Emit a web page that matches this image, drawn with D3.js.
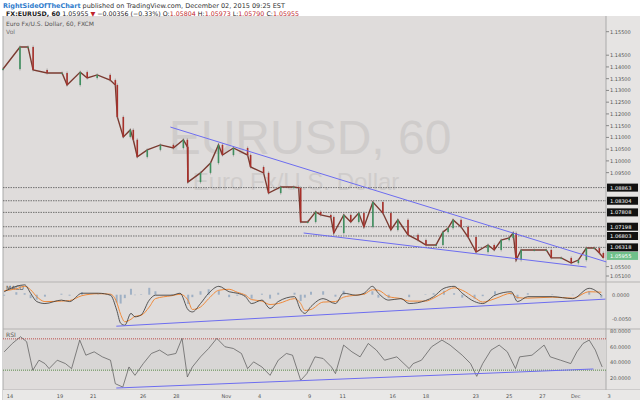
<!DOCTYPE html>
<html><head><meta charset="utf-8">
<script src="https://cdn.jsdelivr.net/npm/d3@7"></script>
<style>body{margin:0;background:#fff}svg{display:block;font-family:"DejaVu Sans",sans-serif}</style>
</head><body><svg id="c" width="640" height="402"></svg>
<script>
// ---- data ----
const tickDays = [0,3,5,8,10,13,15,18,20,23,25,28,30,32,34,36];
const tickLabels = ["14","19","21","26","28","Nov","4","9","11","16","18","23","25","27","Dec","3"];
const priceDays = [-0.42,0.6,1.08,1.39,2.23,3.13,3.43,4.22,4.64,5.24,6.02,6.33,6.45,6.81,7.23,7.41,7.65,8.25,9.04,9.82,10.42,10.66,10.69,11.45,12.05,12.53,12.77,13.43,14.28,14.46,15.24,15.54,16.27,17.05,17.35,17.47,17.89,18.37,18.67,19.28,19.46,20.06,20.48,20.96,21.27,21.81,22.41,22.89,23.31,23.92,24.52,25.0,25.6,26.02,26.33,26.63,27.11,27.53,28.01,28.73,29.1,29.52,30.0,30.24,30.42,30.72,31.51,32.23,32.53,33.13,33.73,34.16,34.64,35.12,35.42,35.66];
const closes = [1.1391,1.1485,1.1485,1.1387,1.1374,1.1374,1.1323,1.1378,1.1353,1.1366,1.1344,1.1323,1.1187,1.1102,1.1132,1.1090,1.1017,1.1047,1.1068,1.1055,1.1090,1.1060,1.0910,1.0949,1.0991,1.1068,1.1025,1.1055,1.1025,1.0974,1.0949,1.0863,1.0889,1.0889,1.0885,1.0740,1.0740,1.0783,1.0770,1.0761,1.0693,1.0770,1.0740,1.0778,1.0719,1.0825,1.0778,1.0706,1.0749,1.0685,1.0663,1.0642,1.0642,1.0697,1.0714,1.0749,1.0719,1.0676,1.0612,1.0642,1.0621,1.0663,1.0672,1.0693,1.0578,1.0621,1.0621,1.0621,1.0587,1.0587,1.0565,1.0578,1.0629,1.0629,1.0608,1.0587];
const priceTicks = [1.155,1.145,1.14,1.135,1.13,1.125,1.12,1.115,1.11,1.105,1.10,1.095,1.055,1.051];
const levels = [1.08863,1.08304,1.07808,1.07198,1.06803,1.06318];
const lastPrice = 1.05955;
const macdDays = [-0.35,0.38,0.88,1.24,1.61,2.1,3.09,3.58,4.32,5.3,6.04,6.41,6.65,6.9,7.27,7.51,7.88,8.37,8.74,9.73,10.22,10.71,10.96,11.45,11.94,12.55,13.17,13.66,14.15,14.52,15.14,15.63,16.12,17.1,17.47,17.72,18.09,18.82,19.56,20.05,20.79,21.28,21.78,22.14,22.76,23.5,23.99,24.97,25.46,26.08,26.69,27.18,27.92,28.41,29.15,30.13,30.5,31.12,32.59,33.82,34.81,35.54];
const macdVals = [0.0006,0.0017,0.0020,0.0003,-0.0014,-0.0018,-0.0011,-0.0014,0.0003,0.0003,-0.0001,-0.0031,-0.0058,-0.0062,-0.0038,-0.0045,-0.0041,-0.0011,-0.0001,-0.0001,0.0003,-0.0031,-0.0035,-0.0018,0.0003,0.0017,0.0006,0.0003,-0.0004,-0.0018,-0.0011,-0.0028,-0.0014,-0.0004,-0.0031,-0.0038,-0.0024,-0.0008,-0.0018,0.0003,-0.0001,0.0003,0.0017,0.0003,-0.0011,-0.0008,-0.0018,-0.0012,-0.0004,0.0013,0.0017,0.0003,-0.0014,-0.0018,-0.0001,0.0006,-0.0014,-0.0004,-0.0004,-0.0008,0.0013,-0.0001];
const signalVals = [0.0008,0.0012,0.0017,0.0010,-0.0004,-0.0014,-0.0013,-0.0012,-0.0002,0.0002,0.0001,-0.0015,-0.0040,-0.0055,-0.0050,-0.0044,-0.0042,-0.0025,-0.0008,-0.0002,0.0001,-0.0012,-0.0030,-0.0025,-0.0008,0.0009,0.0011,0.0005,-0.0001,-0.0010,-0.0013,-0.0020,-0.0018,-0.0008,-0.0018,-0.0032,-0.0030,-0.0015,-0.0014,-0.0005,-0.0001,0.0001,0.0010,0.0009,-0.0004,-0.0008,-0.0013,-0.0013,-0.0007,0.0005,0.0014,0.0009,-0.0006,-0.0015,-0.0008,0.0003,-0.0006,-0.0007,-0.0005,-0.0007,0.0006,0.0005];
const rsiDays = [-0.35,0.14,0.63,1.0,1.24,1.37,1.74,2.1,2.35,2.84,3.33,3.7,4.19,4.56,5.06,5.55,6.04,6.33,6.78,7.15,7.51,8.01,8.5,8.99,9.48,9.97,10.34,10.66,10.96,11.45,11.94,12.43,12.92,13.42,13.91,14.28,14.64,15.14,15.63,16.12,16.61,16.98,17.47,17.84,18.33,18.82,19.32,19.56,20.05,20.55,21.04,21.53,22.02,22.51,23.25,23.99,24.23,24.73,25.34,25.96,26.45,27.18,27.68,28.05,28.41,28.91,29.4,29.89,30.38,30.63,31.37,32.1,32.47,33.09,33.7,34.07,34.44,34.81,35.18,35.42,35.59];
const rsiVals = [53.4,64.1,72.7,66.3,42.7,29.9,42.7,38.4,32.0,42.7,38.4,32.0,68.4,49.1,53.4,47.0,42.7,12.7,8.4,34.1,23.4,38.4,51.3,55.6,49.1,51.3,70.6,21.3,34.1,47.0,57.7,70.6,59.9,57.7,51.3,32.0,40.6,34.1,23.4,42.7,51.3,49.1,17.0,25.6,47.0,44.9,34.1,25.6,62.0,53.4,47.0,64.1,55.6,42.7,47.0,32.0,38.4,42.7,59.9,68.4,62.0,49.1,38.4,22.1,38.4,55.6,62.0,53.4,32.0,47.0,49.1,62.0,47.0,42.7,38.4,53.4,64.1,68.4,55.6,42.7,34.1];
const priceTrendUpper = [[9.64,1.1144],[35.84,1.0570]];
const priceTrendLower = [[17.65,1.0693],[34.64,1.0548]];
const macdTrend = [[6.39,-0.0064],[35.78,-0.0009]];
const rsiTrend = [[6.39,7.2],[35.06,31.5]];

// ---- drawing ----
const svg = d3.select("#c");
const L=3, R=606;
const x = d3.scaleLinear().domain([0,36]).range([10,609]);
const y = d3.scaleLinear().domain([1.155,1.051]).range([31.7,276]);
const ym = d3.scaleLinear().domain([0,-0.005]).range([294.7,319.3]);
const yr = d3.scaleLinear().domain([80,20]).range([331,378]);

svg.append("rect").attr("x",L).attr("y",16).attr("width",R-L).attr("height",374).attr("fill","#dfdcdb");
svg.append("rect").attr("x",R).attr("y",16).attr("width",640-R).attr("height",374).attr("fill","#e6e4e3");
svg.append("line").attr("x1",R).attr("x2",R).attr("y1",16).attr("y2",400).attr("stroke","#aaa");
[282,329,390].forEach(v=>svg.append("line").attr("x1",L).attr("x2",640).attr("y1",v).attr("y2",v).attr("stroke","#b5b3b2"));
svg.append("line").attr("x1",L).attr("x2",L).attr("y1",16).attr("y2",400).attr("stroke","#aaa");

// header
const h1 = svg.append("text").attr("x",3).attr("y",8).attr("font-size",6.5);
h1.append("tspan").attr("fill","#2f7ccc").attr("font-weight","bold").text("RightSideOfTheChart");
h1.append("tspan").attr("fill","#333").text(" published on TradingView.com, December 02, 2015 09:25 EST");
const h2 = svg.append("text").attr("x",6).attr("y",16).attr("font-size",6.3).attr("fill","#222");
h2.append("tspan").attr("font-weight","bold").text("FX:EURUSD, 60 ");
h2.append("tspan").text("1.05955 ");
h2.append("tspan").attr("fill","#c0262d").text("▼");
h2.append("tspan").text(" −0.00356 (−0.33%) O:");
h2.append("tspan").attr("fill","#c0262d").text("1.05804");
h2.append("tspan").text(" H:");
h2.append("tspan").attr("fill","#c0262d").text("1.05973");
h2.append("tspan").text(" L:");
h2.append("tspan").attr("fill","#c0262d").text("1.05790");
h2.append("tspan").text(" C:");
h2.append("tspan").attr("fill","#c0262d").text("1.05955");
svg.append("text").attr("x",6).attr("y",26).attr("font-size",6).attr("fill","#555").text("Euro Fx/U.S. Dollar, 60, FXCM");
svg.append("text").attr("x",6).attr("y",34).attr("font-size",6).attr("fill","#777").text("Vol");

// watermark
svg.append("text").attr("x",310).attr("y",154).attr("text-anchor","middle").attr("font-size",48).attr("font-family","Arial, Liberation Sans").attr("fill","#cfcccb").text("EURUSD, 60");
svg.append("text").attr("x",296).attr("y",190).attr("text-anchor","middle").attr("font-size",24).attr("font-family","Arial, Liberation Sans").attr("fill","#cfcccb").text("Euro Fx/U.S. Dollar");

// price axis labels
priceTicks.forEach(p=>{
  svg.append("line").attr("x1",R).attr("x2",R+3).attr("y1",y(p)).attr("y2",y(p)).attr("stroke","#888");
  svg.append("text").attr("x",R+4).attr("y",y(p)+2).attr("font-size",5).attr("fill","#555").text(p.toFixed(5));
});
// levels
levels.forEach(p=>{
  svg.append("line").attr("x1",L).attr("x2",R).attr("y1",y(p)).attr("y2",y(p)).attr("stroke","#555").attr("stroke-dasharray","1.5,1").attr("stroke-width",0.8);
  svg.append("rect").attr("x",R+1).attr("y",y(p)-4).attr("width",31).attr("height",8).attr("fill","#111");
  svg.append("text").attr("x",R+4).attr("y",y(p)+2).attr("font-size",5.2).attr("fill","#fff").text(p.toFixed(5));
});
svg.append("rect").attr("x",R+1).attr("y",y(lastPrice)-4).attr("width",31).attr("height",8).attr("fill","#6fbf8a");
svg.append("text").attr("x",R+4).attr("y",y(lastPrice)+2).attr("font-size",5.2).attr("fill","#fff").text(lastPrice.toFixed(5));

// price path + candles
const pts = priceDays.map((d,i)=>({d,c:closes[i],o:i?closes[i-1]:closes[i]}));
svg.append("path").attr("d",d3.line().x(p=>x(p.d)).y(p=>y(p.c))(pts)).attr("fill","none").attr("stroke","#7a3a30").attr("stroke-width",1.4);
pts.forEach(p=>{
  const up=p.c>=p.o;
  const top=y(Math.max(p.o,p.c)), bot=y(Math.min(p.o,p.c));
  svg.append("line").attr("x1",x(p.d)).attr("x2",x(p.d)).attr("y1",top-1.5).attr("y2",bot+1.5).attr("stroke","#777").attr("stroke-width",0.5);
  svg.append("rect").attr("x",x(p.d)-0.8).attr("y",top).attr("width",1.6).attr("height",Math.max(1,bot-top)).attr("fill",up?"#3f8f5f":"#a8302a");
});
const tl = (arr,sy)=>svg.append("line").attr("x1",x(arr[0][0])).attr("y1",sy(arr[0][1])).attr("x2",x(arr[1][0])).attr("y2",sy(arr[1][1])).attr("stroke","#6d6df0").attr("stroke-width",1);
tl(priceTrendUpper,y); tl(priceTrendLower,y);

// MACD
svg.append("text").attr("x",6).attr("y",290).attr("font-size",6).attr("fill","#555").text("MACD");
macdDays.forEach((d,i)=>{
  const h=macdVals[i]-signalVals[i];
  svg.append("rect").attr("x",x(d)-1).attr("width",2).attr("y",Math.min(ym(0),ym(h))).attr("height",Math.abs(ym(h)-ym(0))).attr("fill","#9fb0c4");
});
const mpts = macdDays.map((d,i)=>[d,macdVals[i],signalVals[i]]);
svg.append("path").attr("d",d3.line().curve(d3.curveMonotoneX).x(p=>x(p[0])).y(p=>ym(p[2]))(mpts)).attr("fill","none").attr("stroke","#f08a3a").attr("stroke-width",1);
svg.append("path").attr("d",d3.line().curve(d3.curveMonotoneX).x(p=>x(p[0])).y(p=>ym(p[1]))(mpts)).attr("fill","none").attr("stroke","#333").attr("stroke-width",0.8);
tl(macdTrend,ym);
[[0,"0.0000"],[-0.005,"-0.0050"]].forEach(([v,t])=>svg.append("text").attr("x",R+6).attr("y",ym(v)+2).attr("font-size",5).attr("fill","#555").text(t));

// RSI
svg.append("rect").attr("x",L).attr("y",yr(70)).attr("width",R-L).attr("height",yr(30)-yr(70)).attr("fill","#d8d6d5");
svg.append("text").attr("x",6).attr("y",337).attr("font-size",6).attr("fill","#555").text("RSI");
svg.append("line").attr("x1",L).attr("x2",R).attr("y1",yr(70)).attr("y2",yr(70)).attr("stroke","#c0504d").attr("stroke-dasharray","1,1");
svg.append("line").attr("x1",L).attr("x2",R).attr("y1",yr(30)).attr("y2",yr(30)).attr("stroke","#5a8a4a").attr("stroke-dasharray","1,1");
svg.append("path").attr("d",d3.line().x((d,i)=>x(d)).y((d,i)=>yr(rsiVals[i]))(rsiDays)).attr("fill","none").attr("stroke","#555").attr("stroke-width",0.7);
tl(rsiTrend,yr);
[80,60,40,20].forEach(v=>svg.append("text").attr("x",R+4).attr("y",yr(v)+2).attr("font-size",5).attr("fill","#555").text(v.toFixed(4)));

// x axis
svg.append("rect").attr("x",L).attr("y",390).attr("width",640-L).attr("height",10).attr("fill","#e9e8e7");
tickDays.forEach((d,i)=>svg.append("text").attr("x",x(d)).attr("y",397.5).attr("text-anchor","middle").attr("font-size",5).attr("fill","#555").text(tickLabels[i]));
</script></body></html>
